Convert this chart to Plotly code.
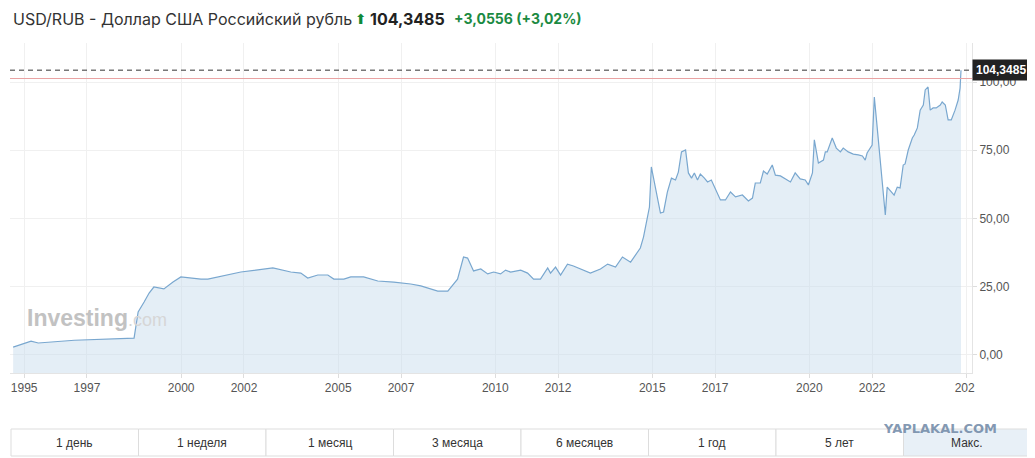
"""
USD/RUB - весь период (Investing.com), макс. диапазон
"""

import plotly.graph_objects as go

# --- данные (дробный год, курс) ---
years = [
    1994.65, 1995.22, 1995.45, 1996.60, 1998.50, 1998.63, 1998.82, 1998.98, 1999.13,
    1999.45, 1999.74, 1999.99, 2000.63, 2000.85, 2001.90, 2002.38, 2002.92, 2003.49,
    2003.81, 2004.03, 2004.35, 2004.67, 2004.86, 2005.18, 2005.40, 2005.81, 2006.26,
    2006.77, 2007.31, 2007.63, 2007.85, 2008.17, 2008.49, 2008.80, 2008.99, 2009.12,
    2009.31, 2009.54, 2009.76, 2009.95, 2010.17, 2010.33, 2010.49, 2010.81, 2011.03,
    2011.22, 2011.44, 2011.67, 2011.76, 2011.92, 2012.08, 2012.30, 2012.49, 2013.03,
    2013.35, 2013.58, 2013.83, 2014.05, 2014.31, 2014.62, 2014.72, 2014.85, 2014.91,
    2014.97, 2015.10, 2015.26, 2015.36, 2015.48, 2015.61, 2015.74, 2015.83, 2015.93,
    2016.06, 2016.15, 2016.25, 2016.34, 2016.44, 2016.53, 2016.66, 2016.76, 2016.88,
    2017.04, 2017.17, 2017.33, 2017.49, 2017.65, 2017.87, 2018.06, 2018.19, 2018.28,
    2018.44, 2018.54, 2018.66, 2018.82, 2018.92, 2019.08, 2019.24, 2019.40, 2019.55,
    2019.71, 2019.87, 2019.97, 2020.10, 2020.16, 2020.29, 2020.45, 2020.51, 2020.57,
    2020.73, 2020.86, 2020.99, 2021.08, 2021.24, 2021.40, 2021.56, 2021.69, 2021.78,
    2021.84, 2022.00, 2022.07, 2022.16, 2022.42, 2022.48, 2022.61, 2022.70, 2022.80,
    2022.89, 2022.99, 2023.05, 2023.15, 2023.28, 2023.34, 2023.44, 2023.53, 2023.63,
    2023.69, 2023.78, 2023.85, 2023.94, 2024.04, 2024.17, 2024.23, 2024.33, 2024.42,
    2024.52, 2024.64, 2024.74, 2024.80, 2024.83,
]
rates = [
    2.9, 5.1, 4.4, 5.4, 6.2, 15.8, 19.4, 22.7, 24.9,
    24.2, 26.7, 28.6, 27.8, 27.8, 30.4, 31.1, 31.9, 30.4,
    30.0, 28.2, 29.3, 29.3, 27.8, 27.8, 28.6, 28.6, 27.1,
    26.7, 26.0, 25.3, 24.5, 23.4, 23.4, 27.8, 35.9, 35.5,
    30.8, 31.5, 29.7, 30.4, 29.7, 31.1, 30.4, 31.1, 30.0,
    27.8, 27.8, 31.9, 30.0, 32.2, 29.3, 33.3, 32.6, 30.0,
    31.5, 33.3, 32.2, 35.9, 34.0, 39.2, 43.2, 50.2, 54.2,
    68.9, 61.2, 52.0, 52.4, 59.7, 64.8, 64.1, 67.0, 74.4,
    75.1, 66.7, 64.8, 66.7, 64.1, 66.3, 64.8, 63.4, 64.1,
    60.4, 56.8, 56.8, 59.7, 57.9, 58.6, 56.4, 57.5, 63.0,
    63.0, 67.4, 66.3, 69.6, 65.9, 65.6, 64.5, 63.4, 66.7,
    64.5, 64.1, 62.3, 66.7, 78.8, 70.3, 71.4, 74.4, 74.4,
    79.5, 75.8, 74.4, 75.8, 74.4, 73.6, 73.3, 72.9, 71.4,
    74.0, 76.9, 94.5, 83.5, 51.3, 61.5, 59.7, 58.6, 61.5,
    61.2, 69.6, 70.0, 75.1, 79.5, 80.6, 83.2, 89.7, 91.6,
    97.1, 98.2, 89.7, 90.5, 90.5, 91.6, 92.7, 91.6, 86.1,
    86.1, 89.7, 93.4, 97.8, 104.3485,
]

last_price = 104.3485
prev_close = 101.2929
change = "+3,0556 (+3,02%)"

x_ticks = [1995, 1997, 2000, 2002, 2005, 2007, 2010, 2012, 2015, 2017, 2020, 2022, 2025]
# последняя подпись на исходнике обрезана краем
x_labels = ["1995", "1997", "2000", "2002", "2005", "2007", "2010", "2012",
            "2015", "2017", "2020", "2022", "202\u00a0"]
y_ticks = [0, 25, 50, 75, 100]
y_labels = ["0,00", "25,00", "50,00", "75,00", "100,00"]

periods = ["1 день", "1 неделя", "1 месяц", "3 месяца", "6 месяцев", "1 год", "5 лет", "Макс."]

# --- геометрия (пиксели окна); страница сдвигает график на 8px отступом body ---
OFF = 8
W, H = 1035 - OFF, 458 - OFF
PL, PR, PT, PB = 10 - OFF, 972 - OFF, 43 - OFF, 373 - OFF
X_RANGE = [1994.55, 2025.18]
Y_RANGE = [-6.6, 114.3]


def px_x(px):
    # px - координата в окне
    return (px - OFF - PL) / (PR - PL)


def px_y(py):
    return (PB - (py - OFF)) / (PB - PT)


fig = go.Figure()

# нижняя граница заливки = низ графика
fig.add_trace(go.Scatter(
    x=[years[0], years[-1]], y=[Y_RANGE[0], Y_RANGE[0]],
    mode="lines", line=dict(width=0), hoverinfo="skip", showlegend=False
))
fig.add_trace(go.Scatter(
    x=years, y=rates, mode="lines",
    line=dict(color="#79a7cf", width=1.2),
    fill="tonexty", fillcolor="rgba(196,217,236,0.45)",
    showlegend=False, name="USD/RUB"
))

shapes = [
    # линия предыдущего закрытия
    dict(type="line", xref="paper", yref="y", x0=0, x1=1, y0=prev_close, y1=prev_close,
         line=dict(color="#e9a3a3", width=1)),
    # текущая цена
    dict(type="line", xref="paper", yref="y", x0=0, x1=1, y0=last_price, y1=last_price,
         line=dict(color="#333333", width=1, dash="5px,4px")),
]

annotations = [
    dict(xref="paper", yref="paper", x=px_x(11), y=px_y(19), xanchor="left", yanchor="middle",
         text="USD/RUB - Доллар США Российский рубль", showarrow=False,
         font=dict(family="Inter, Arial", size=16, color="#333333")),
    dict(xref="paper", yref="paper", x=px_x(353), y=px_y(19), xanchor="left", yanchor="middle",
         text="⬆", showarrow=False, font=dict(family="DejaVu Sans", size=14, color="#0e8a3a")),
    dict(xref="paper", yref="paper", x=px_x(368), y=px_y(19), xanchor="left", yanchor="middle",
         text="<b>104,3485</b>", showarrow=False,
         font=dict(family="Inter, Arial", size=16, color="#222222")),
    dict(xref="paper", yref="paper", x=px_x(452), y=px_y(19), xanchor="left", yanchor="middle",
         text="<b>" + change + "</b>", showarrow=False,
         font=dict(family="Inter, Arial", size=14, color="#1b8a42")),
    # ярлык цены справа
    dict(xref="paper", yref="y", x=1, y=last_price, xanchor="left", yanchor="middle",
         text="<b>104,3485</b>", showarrow=False, bgcolor="#222222", borderpad=3,
         font=dict(family="Arial", size=12, color="white")),
    # водяной знак
    dict(xref="paper", yref="paper", x=px_x(25), y=px_y(318), xanchor="left", yanchor="middle",
         text="<b>Investing</b><span style='color:#d6d6d6;font-size:18px'>.com</span>",
         showarrow=False, font=dict(family="Arial", size=23, color="#c2c2c2")),
    dict(xref="paper", yref="paper", x=px_x(940), y=px_y(428), xanchor="center", yanchor="middle",
         text="<b>YAPLAKAL.COM</b>", showarrow=False,
         font=dict(family="DejaVu Sans", size=13, color="rgba(110,135,165,0.85)")),
]

# кнопки периодов
bx0, bx1, by0, by1 = 11, 1031, 429, 456
bw = (bx1 - bx0) / len(periods)
for i, label in enumerate(periods):
    x0 = bx0 + i * bw
    shapes.append(dict(
        type="rect", xref="paper", yref="paper",
        x0=px_x(x0), x1=px_x(x0 + bw), y0=px_y(by1), y1=px_y(by0),
        line=dict(color="#dddddd", width=1),
        fillcolor="#e8f0f7" if label == "Макс." else "white", layer="below"
    ))
    annotations.append(dict(
        xref="paper", yref="paper", x=px_x(x0 + bw / 2), y=px_y((by0 + by1) / 2),
        text=label, showarrow=False, xanchor="center", yanchor="middle",
        font=dict(family="Arial", size=12, color="#333333")
    ))

fig.update_layout(
    width=W, height=H,
    margin=dict(l=PL, r=W - PR, t=PT, b=H - PB),
    plot_bgcolor="white", paper_bgcolor="white",
    showlegend=False,
    shapes=shapes, annotations=annotations,
    xaxis=dict(
        range=X_RANGE, tickvals=x_ticks, ticktext=x_labels,
        showgrid=True, gridcolor="#f0f0f0", zeroline=False,
        showline=True, linecolor="#e4e4e4",
        ticks="outside", ticklen=4, tickcolor="#dddddd",
        tickfont=dict(family="Arial", size=12, color="#555555")
    ),
    yaxis=dict(
        range=Y_RANGE, side="right", tickvals=y_ticks, ticktext=y_labels,
        showgrid=True, gridcolor="#f0f0f0", zeroline=False,
        showline=True, linecolor="#e4e4e4",
        ticks="outside", ticklen=4, tickcolor="#dddddd",
        tickfont=dict(family="Arial", size=12, color="#555555")
    ),
)

fig.write_html("out.html")
